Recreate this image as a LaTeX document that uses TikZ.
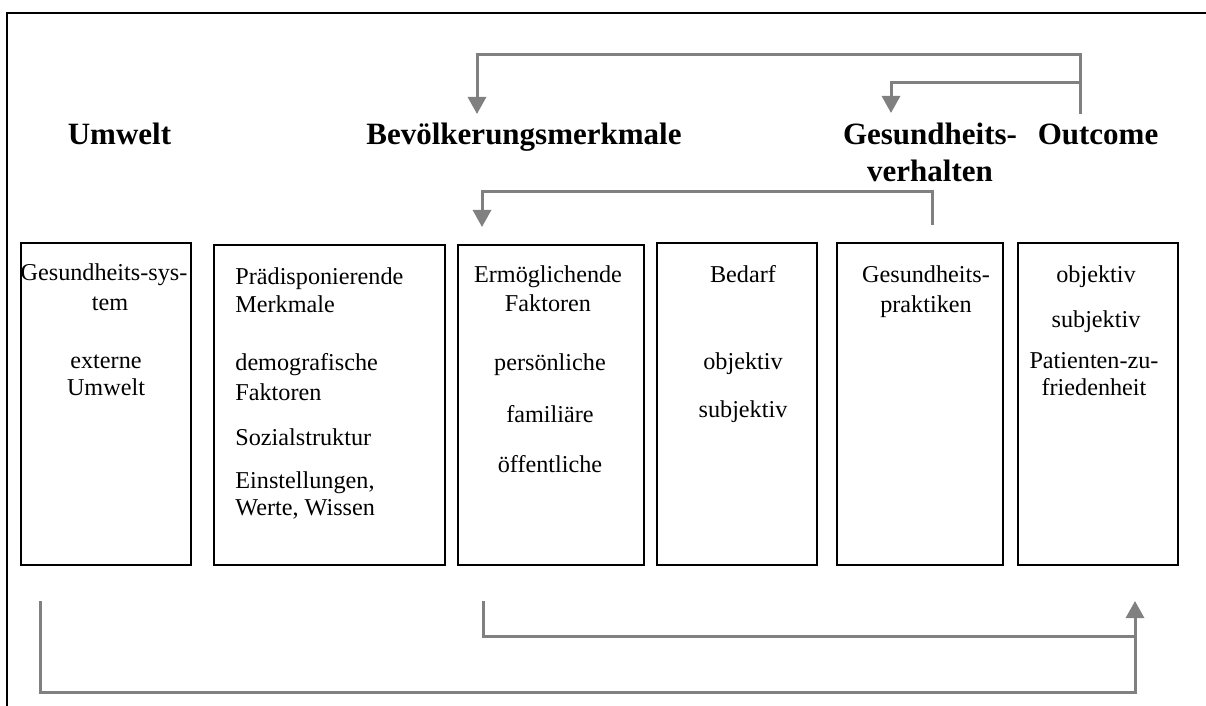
\documentclass[tikz,border=0pt]{standalone}
\usepackage{fontspec}
\setmainfont{Liberation Serif}
\usetikzlibrary{arrows.meta}
\definecolor{conngray}{HTML}{808080}
\tikzset{
  x=0.5pt, y=-0.5pt,
  boxst/.style={draw=black, line width=0.6pt, inner sep=0pt, rectangle},
  boxthick/.style={boxst, line width=1.2pt},
  body/.style={inner sep=0pt, font=\fontsize{12.1}{14}\selectfont},
  bodyc/.style={body, anchor=base},
  bodyl/.style={body, anchor=base west},
  head/.style={inner sep=0pt, anchor=base, font=\fontsize{15.5}{18}\selectfont\bfseries},
  conn/.style={draw=conngray, line width=1.5pt},
  arr/.style={conn, -{Triangle[width=9pt,length=8.5pt]}},
  frame/.style={draw=black, line width=1.3pt}
}
\begin{document}
\begin{tikzpicture}
\clip (0,0) rectangle (1206,706);
\fill[white] (0,0) rectangle (1206,706);
% outer frame (partly visible)
\draw[frame] (7,730) -- (7,13) -- (1230,13);

% headings
\node[head] (hU) at (119.5,145) {Umwelt};
\node[head] (hB) at (524,145) {Bevölkerungsmerkmale};
\node[head] (hG1) at (930,145) {Gesundheits-};
\node[head] (hG2) at (930,182) {verhalten};
\node[head] (hO) at (1098,145) {Outcome};

% boxes
\node[boxst, minimum width=85pt, minimum height=161pt] (b1) at (106,404) {};
\node[boxthick, minimum width=115.5pt, minimum height=160pt] (b2) at (329.5,405) {};
\node[boxst, minimum width=93pt, minimum height=160pt] (b3) at (551,405) {};
\node[boxst, minimum width=80pt, minimum height=161pt] (b4) at (737,404) {};
\node[boxst, minimum width=83pt, minimum height=161pt] (b5) at (920,404) {};
\node[boxst, minimum width=80pt, minimum height=161pt] (b6) at (1098,404) {};

% box 1 text
\node[bodyc] (t11) at (104,280) {Gesundheits-sys-};
\node[bodyc] (t12) at (110,310) {tem};
\node[bodyc] (t13) at (106,368) {externe};
\node[bodyc] (t14) at (106,395) {Umwelt};

% box 2 text
\node[bodyl] (t21) at (235,285) {Prädisponierende};
\node[bodyl] (t22) at (235,313) {Merkmale};
\node[bodyl] (t23) at (235,370) {demografische};
\node[bodyl] (t24) at (235,400) {Faktoren};
\node[bodyl] (t25) at (235,445) {Sozialstruktur};
\node[bodyl] (t26) at (235,488) {Einstellungen,};
\node[bodyl] (t27) at (235,515) {Werte, Wissen};

% box 3 text
\node[bodyc] (t31) at (548,283) {Ermöglichende};
\node[bodyc] (t32) at (548,311) {Faktoren};
\node[bodyc] (t33) at (550,370) {persönliche};
\node[bodyc] (t34) at (550,422) {familiäre};
\node[bodyc] (t35) at (550,472) {öffentliche};

% box 4 text
\node[bodyc] (t41) at (743,282) {Bedarf};
\node[bodyc] (t42) at (743,369) {objektiv};
\node[bodyc] (t43) at (743,417) {subjektiv};

% box 5 text
\node[bodyc] (t51) at (926,283) {Gesundheits-};
\node[bodyc] (t52) at (926,312) {praktiken};

% box 6 text
\node[bodyc] (t61) at (1096,283) {objektiv};
\node[bodyc] (t62) at (1096,327) {subjektiv};
\node[bodyc] (t63) at (1094,368) {Patienten-zu-};
\node[bodyc] (t64) at (1094,395) {friedenheit};

% connector coordinates
\coordinate (oStart) at (1080,114);
\coordinate (oJoin) at (1080,83);
\coordinate (bTip) at (477,114);
\coordinate (gTip) at (891,113);
\coordinate (pStart) at (932,225);
\coordinate (eTip) at (482,227);
\coordinate (eStart) at (483,601);
\coordinate (uStart) at (40,601);
\coordinate (oTip) at (1135,601);
\coordinate (oInner) at (1135,636);

% top connectors
\draw[arr] (oStart) -- (1080,55) -| (bTip);
\draw[arr] (oJoin) -| (gTip);
\draw[arr] (pStart) -- (932,192) -| (eTip);

% bottom connectors
\draw[conn] (eStart) |- (oInner);
\draw[arr] (uStart) -- (40,692) -| (oTip);
\end{tikzpicture}
\end{document}
